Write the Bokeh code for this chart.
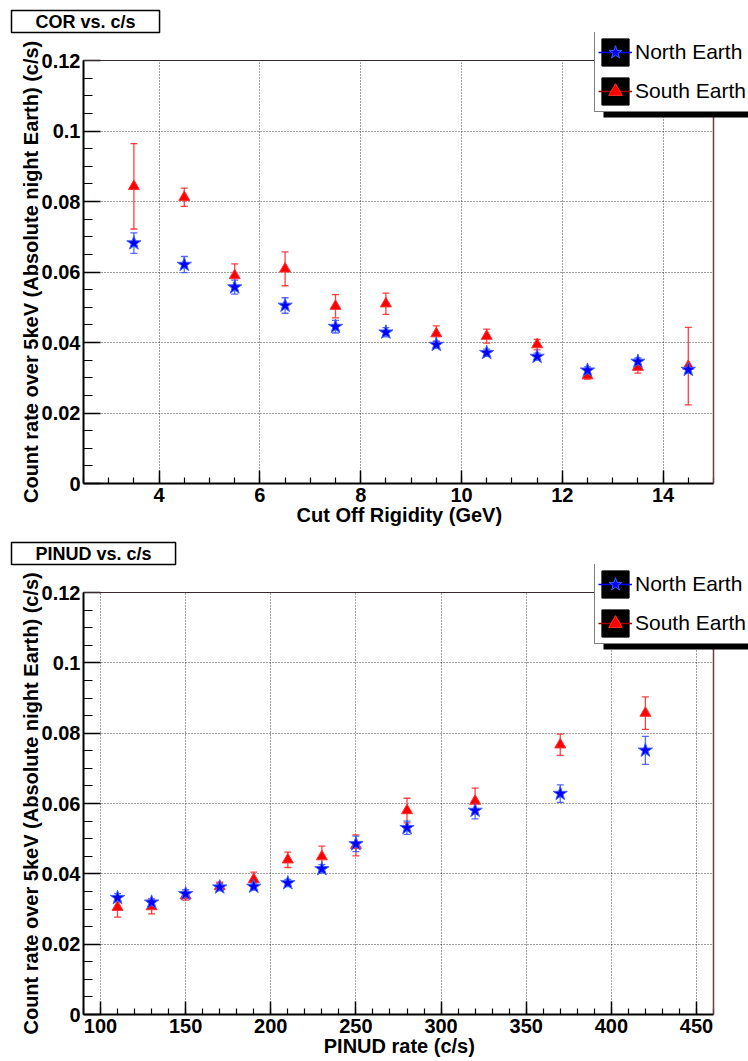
import numpy as np
from bokeh.plotting import figure
from bokeh.layouts import column
from bokeh.models import (ColumnDataSource, Whisker, TeeHead, Legend, LegendItem, Title,
                          BoxAnnotation, FixedTicker, SingleIntervalTicker, Range1d, Span)
from bokeh.embed import file_html
from bokeh.resources import INLINE

# ---- shared y axis ----
y_ticks = [0, 0.02, 0.04, 0.06, 0.08, 0.1, 0.12]
y_tick_labels = ["0", "0.02", "0.04", "0.06", "0.08", "0.1", "0.12"]
y_label = "Count rate over 5keV (Absolute night Earth) (c/s)"
series_names = ["North Earth", "South Earth"]

# ---- cut-off rigidity panel ----
cor_x = [3.5, 4.5, 5.5, 6.5, 7.5, 8.5, 9.5, 10.5, 11.5, 12.5, 13.5, 14.5]
north_cor = [0.0682, 0.0621, 0.0557, 0.0505, 0.0445, 0.0429, 0.0394, 0.0371, 0.0360, 0.0321, 0.0346, 0.0323]
north_cor_err = [0.0029, 0.0023, 0.0020, 0.0022, 0.0018, 0.0013, 0.0010, 0.0010, 0.0010, 0.0010, 0.0010, 0.0010]
south_cor = [0.0843, 0.0812, 0.0590, 0.0609, 0.0503, 0.0510, 0.0425, 0.0418, 0.0394, 0.0306, 0.0330, 0.0333]
south_cor_err = [0.0121, 0.0026, 0.0033, 0.0048, 0.0033, 0.0030, 0.0022, 0.0020, 0.0015, 0.0010, 0.0017, 0.0110]

# ---- PINUD rate panel ----
pin_x = [110, 130, 150, 170, 190, 210, 230, 250, 280, 320, 370, 420]
north_pin = [0.0332, 0.0319, 0.0343, 0.0362, 0.0364, 0.0374, 0.0414, 0.0485, 0.0531, 0.0580, 0.0628, 0.0751]
north_pin_err = [0.0012, 0.0010, 0.0012, 0.0010, 0.0010, 0.0010, 0.0012, 0.0022, 0.0019, 0.0024, 0.0025, 0.0040]
south_pin = [0.0305, 0.0307, 0.0338, 0.0364, 0.0384, 0.0440, 0.0449, 0.0481, 0.0580, 0.0607, 0.0767, 0.0857]
south_pin_err = [0.0028, 0.0021, 0.0013, 0.0012, 0.0021, 0.0022, 0.0030, 0.0030, 0.0035, 0.0037, 0.0030, 0.0046]

FONT = "Liberation Sans"
LEFT, BOTTOM = 83, 47
BOX_W = 630                 # width of the drawn plot box in px
EXTRA_R, EXTRA_T = 35, 28   # legend room right of / above the plot box
Y_MAX = 0.12
NBSP = "\u00a0"             # keeps axis titles centred on the plot box, not the frame


def make_panel(title, xlabel, x, north, north_err, south, south_err,
               x_lim, x_step, x_minor, height, top):
    # the frame also covers the legend area; axes and grid stay inside x_lim / [0, Y_MAX]
    frame_h = height - top - BOTTOM
    box_h = frame_h - EXTRA_T
    x_end = x_lim[1] + EXTRA_R * (x_lim[1] - x_lim[0]) / BOX_W
    y_end = Y_MAX + EXTRA_T * Y_MAX / box_h
    fx = lambda cx: cx - LEFT
    fy = lambda cy: top + frame_h - cy

    p = figure(width=748, height=height, x_range=Range1d(x_lim[0], x_end),
               y_range=Range1d(0, y_end),
               output_backend="svg", toolbar_location=None,
               min_border_left=LEFT, min_border_right=0,
               min_border_top=top, min_border_bottom=BOTTOM)
    p.background_fill_color = "white"
    p.border_fill_color = "white"
    p.outline_line_color = None

    p.yaxis.ticker = FixedTicker(ticks=y_ticks, minor_ticks=list(np.arange(0, Y_MAX + 1e-4, 0.005)))
    p.yaxis.major_label_overrides = dict(zip(y_ticks, y_tick_labels))
    p.yaxis.bounds = (0, Y_MAX)
    p.xaxis.ticker = SingleIntervalTicker(interval=x_step, num_minor_ticks=x_minor)
    p.xaxis.bounds = tuple(x_lim)
    for ax, tin, tmin in ((p.yaxis, 17, 9), (p.xaxis, 13, 6)):
        ax.axis_line_color = "black"
        ax.axis_line_width = 2
        ax.major_tick_in = tin
        ax.major_tick_out = 0
        ax.minor_tick_in = tmin
        ax.minor_tick_out = 0
        ax.major_tick_line_color = "black"
        ax.major_tick_line_width = 1.5
        ax.minor_tick_line_color = "black"
        ax.minor_tick_line_width = 1.2
        ax.major_label_text_font = FONT
        ax.major_label_text_font_style = "bold"
        ax.major_label_text_font_size = "20px"
        ax.major_label_text_color = "black"
        ax.axis_label_text_font = FONT
        ax.axis_label_text_font_style = "bold"
        ax.axis_label_text_font_size = "20px"
        ax.axis_label_text_color = "black"
    p.yaxis.major_label_standoff = 3
    p.xaxis.major_label_standoff = 4
    p.yaxis.axis_label = y_label + NBSP * 5
    p.yaxis.axis_label_standoff = -3
    p.xaxis.axis_label = xlabel + NBSP * 6
    p.xaxis.axis_label_standoff = -1

    p.xgrid.bounds = tuple(x_lim)
    p.xgrid.cross_bounds = (0, Y_MAX)
    p.ygrid.bounds = (0, Y_MAX)
    p.ygrid.cross_bounds = tuple(x_lim)
    for g in (p.xgrid, p.ygrid):
        g.grid_line_color = "black"
        g.grid_line_alpha = 0.75
        g.grid_line_dash = "1 2"
        g.grid_line_width = 1

    # right and top edges of the plot box
    p.add_layout(Span(location=x_lim[1], dimension="height", line_color="#6b4046", line_width=1.5))
    p.add_layout(Span(location=Y_MAX, dimension="width", line_color="#3a2a2e", line_width=1))

    src_n = ColumnDataSource(dict(x=x, y=north,
                                  lo=[v - e for v, e in zip(north, north_err)],
                                  hi=[v + e for v, e in zip(north, north_err)]))
    src_s = ColumnDataSource(dict(x=x, y=south,
                                  lo=[v - e for v, e in zip(south, south_err)],
                                  hi=[v + e for v, e in zip(south, south_err)]))

    for src, col in ((src_s, "#ff2020"), (src_n, "#3a50ff")):
        p.add_layout(Whisker(source=src, base="x", lower="lo", upper="hi",
                             line_color=col, line_alpha=0.85, line_width=1.3,
                             upper_head=TeeHead(size=7, line_color=col, line_alpha=0.85, line_width=1.3),
                             lower_head=TeeHead(size=7, line_color=col, line_alpha=0.85, line_width=1.3)))

    tri = p.scatter("x", "y", source=src_s, marker="triangle", size=11,
                    fill_color="red", line_color="#ff3030", line_width=1)
    star = p.scatter("x", "y", source=src_n, marker="star", size=15,
                     fill_color="blue", line_color="#4060ff", line_width=1)

    # legend icon parts: black square, series line, marker
    box_n = p.quad(left="x", right="x", top="y", bottom="y", source=src_n,
                   fill_color="black", line_color="black", visible=False)
    line_n = p.line("x", "y", source=src_n, line_color="blue", line_width=1.5, visible=False)
    box_s = p.quad(left="x", right="x", top="y", bottom="y", source=src_s,
                   fill_color="black", line_color="black", visible=False)
    line_s = p.line("x", "y", source=src_s, line_color="#a00000", line_width=1.5, visible=False)

    lg_bottom = top + 80
    p.add_layout(BoxAnnotation(left=fx(603), right=fx(760), top=fy(lg_bottom - 1), bottom=fy(lg_bottom + 5),
                               left_units="screen", right_units="screen",
                               top_units="screen", bottom_units="screen",
                               fill_color="black", fill_alpha=1, line_color=None))
    legend = Legend(items=[LegendItem(label=series_names[0], renderers=[box_n, line_n, star]),
                           LegendItem(label=series_names[1], renderers=[box_s, line_s, tri])],
                    location=(fx(594), fy(lg_bottom)),
                    glyph_width=34, glyph_height=34, spacing=5, padding=3, margin=0,
                    label_standoff=3, label_text_font=FONT, label_text_font_size="21px",
                    label_text_color="black", border_line_color="black", border_line_width=1.5,
                    background_fill_color="white", background_fill_alpha=1)
    p.add_layout(legend)

    p.title = Title(text=title, align="left", vertical_align="bottom", offset=11 - LEFT, standoff=0,
                    text_font=FONT, text_font_style="bold", text_font_size="18px",
                    text_color="black", background_fill_color="white",
                    border_line_color="black", border_line_width=1.5,
                    padding=dict(left=24, right=24, top=1, bottom=1))
    return p


p_cor = make_panel("COR vs. c/s", "Cut Off Rigidity (GeV)",
                   cor_x, north_cor, north_cor_err, south_cor, south_cor_err,
                   (2.5, 15), 2, 4, 530, 32)
p_pin = make_panel("PINUD vs. c/s", "PINUD rate (c/s)",
                   pin_x, north_pin, north_pin_err, south_pin, south_pin_err,
                   (90, 460), 50, 5, 531, 34)

layout = column(p_cor, p_pin, spacing=0)
open("out.html", "w").write(file_html(layout, INLINE))
